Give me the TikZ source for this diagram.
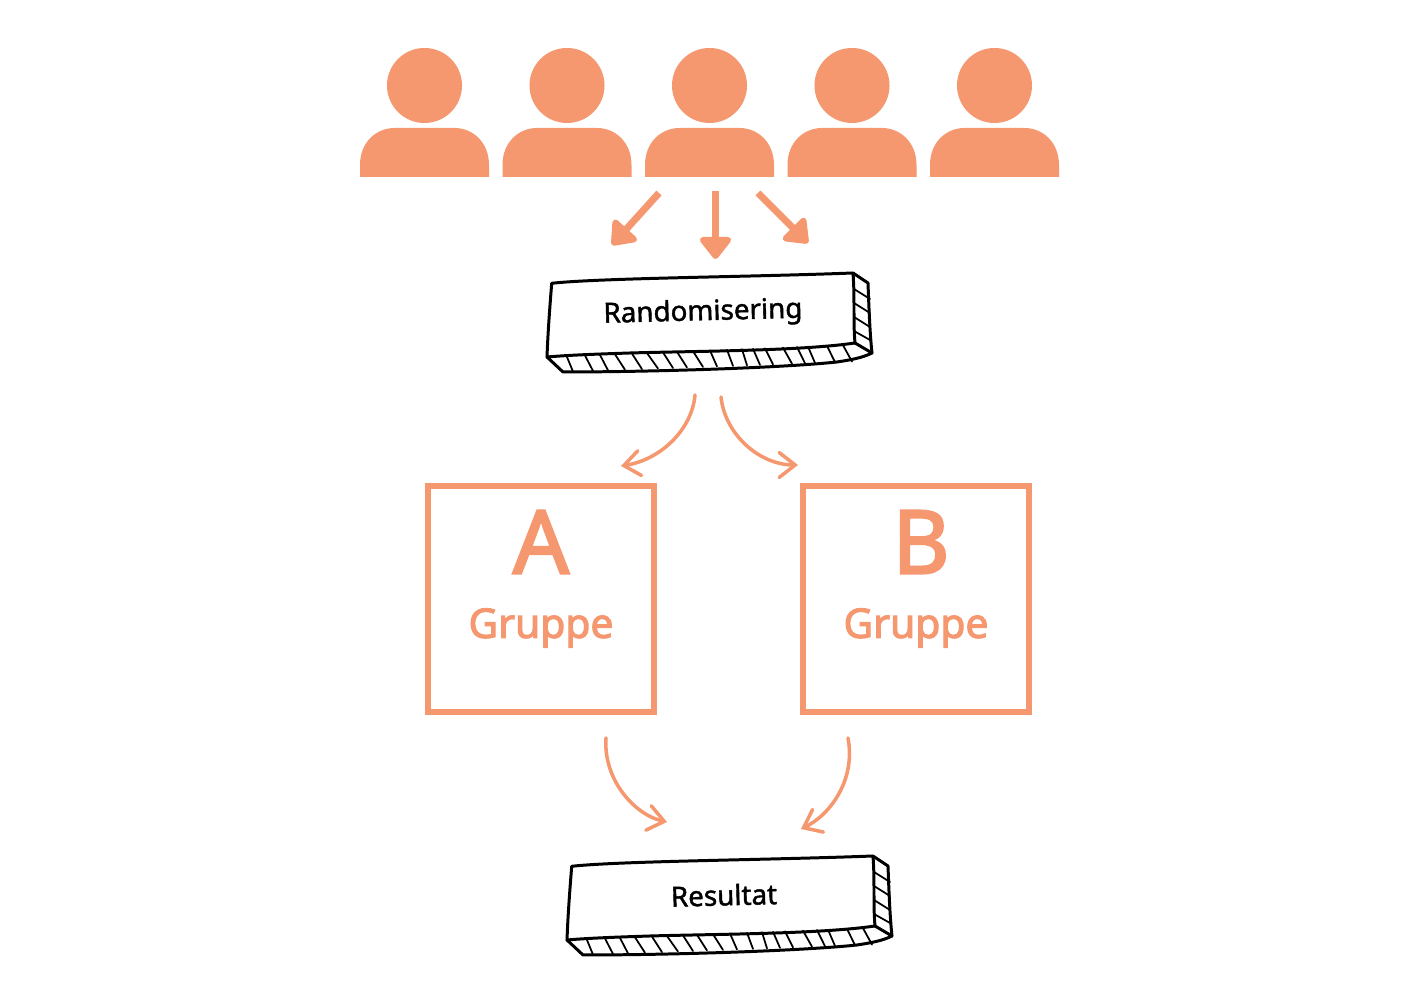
\documentclass[tikz,border=0pt]{standalone}
\usepackage{fontspec}
\setmainfont{Noto Sans}
\newfontfamily\heavyfont[FakeBold=2.6]{Noto Sans}
\newfontfamily\mediumfont[FakeBold=1.5]{Noto Sans}
\usetikzlibrary{arrows.meta,positioning}
\definecolor{salmon}{HTML}{F5976F}

\tikzset{
  pics/sketchblock/.style={code={
    \draw[outline] (551.7,283.3) .. controls (600,278) and (750,277) .. (853,273)
      .. controls (855,300) and (853,320) .. (855,343)
      .. controls (800,351) and (700,351) .. (630,353)
      .. controls (600,354) and (570,355) .. (547,357)
      .. controls (548,330) and (550,305) .. (551.7,283.3) -- cycle;
    \draw[outline] (547,357) -- (563,372) .. controls (650,372) and (780,368) .. (837,362)
      .. controls (850,360) and (862,358) .. (872,353) -- (855,343);
    \draw[outline] (853,273) -- (868,283) .. controls (869,310) and (870,335) .. (872,353);
    \foreach \a/\b in {566.7/573,585/593,600/608,615/625,632/642,647/658,663/673,677/687,693/703,710/717,
      727/733,742/747,753/760,765/773,783/792,797/805,808/815,827/835,843/852}
      \draw[hatch] (\a,{357-(\a-548)*0.04}) -- (\b,{372-(\b-563)*0.036});
    \foreach \c/\d in {289/299,303/313,317/327,331/340}
      \draw[hatch] (854,\c) -- (870,\d);
    \node[blocktext] (-label) at (#1) {\blocklabel};
  }}
}

\begin{document}
\begin{tikzpicture}[
  x=0.01cm, y=-0.01cm,
  head/.style={circle, fill=salmon, minimum size=2.13cm*0.352, inner sep=0},
  body/.style={fill=salmon},
  groupbox/.style={draw=salmon, line width=1.6pt, minimum size=2.26cm, inner sep=0},
  bigletter/.style={text=salmon, font=\fontsize{25}{30}\selectfont\heavyfont},
  grouptext/.style={text=salmon, font=\fontsize{11.6}{14}\selectfont\heavyfont},
  blocktext/.style={rotate=1.5, font=\fontsize{7.9}{10}\selectfont\mediumfont},
  outline/.style={line width=0.85pt, line join=round, line cap=round},
  hatch/.style={line width=0.5pt, line cap=round},
  fat/.style={draw=salmon, line width=2pt, -{Triangle[round, length=2.4mm, width=3.6mm]}},
  thin/.style={draw=salmon, line width=1pt, line cap=round, -{Straight Barb[length=1.6mm, width=2.5mm, line cap=round]}}
]
\useasboundingbox (0,0) rectangle (1420,1004);

\foreach \i/\px in {1/424.5,2/567,3/709.5,4/852,5/994.5} {
  \node[head] (head\i) at (\px,85.5) {};
  \fill[body] (\px-64.5,177) -- (\px-64.5,165) .. controls (\px-64.5,142) and (\px-48,128) .. (\px-30,128)
    -- (\px+30,128) .. controls (\px+48,128) and (\px+64.5,142) .. (\px+64.5,165) -- (\px+64.5,177) -- cycle;
}

\coordinate (fanleftstart) at (659,193);
\coordinate (fanleftend) at (612,245);
\coordinate (fanmidstart) at (715.5,191);
\coordinate (fanmidend) at (715.5,259);
\coordinate (fanrightstart) at (758,193);
\coordinate (fanrightend) at (808,243);
\draw[fat] (fanleftstart) -- (fanleftend);
\draw[fat] (fanmidstart) -- (fanmidend);
\draw[fat] (fanrightstart) -- (fanrightend);

\def\blocklabel{Randomisering}
\pic (rand) at (0,0) {sketchblock={703,313}};
\def\blocklabel{Resultat}
\pic (result) at (20,583) {sketchblock={704,312}};

\node[groupbox] (boxa) at (541,599) {};
\node[groupbox] (boxb) at (916,599) {};
\node[bigletter] (lettera) at (541,542) {A};
\node[bigletter] (letterb) at (921,542) {B};
\node[grouptext] (groupa) at (541,628) {Gruppe};
\node[grouptext] (groupb) at (916,628) {Gruppe};

\coordinate (splitastart) at (695,395);
\coordinate (splitaend) at (621,466);
\coordinate (splitbstart) at (721,397);
\coordinate (splitbend) at (798,465);
\coordinate (joinastart) at (606,738);
\coordinate (joinaend) at (667,822);
\coordinate (joinbstart) at (848,738);
\coordinate (joinbend) at (801,829);
\draw[thin] (splitastart) .. controls (692,430) and (660,460) .. (splitaend);
\draw[thin] (splitbstart) .. controls (725,435) and (760,465) .. (splitbend);
\draw[thin] (joinastart) .. controls (603,780) and (635,815) .. (joinaend);
\draw[thin] (joinbstart) .. controls (856,780) and (830,815) .. (joinbend);
\end{tikzpicture}
\end{document}
